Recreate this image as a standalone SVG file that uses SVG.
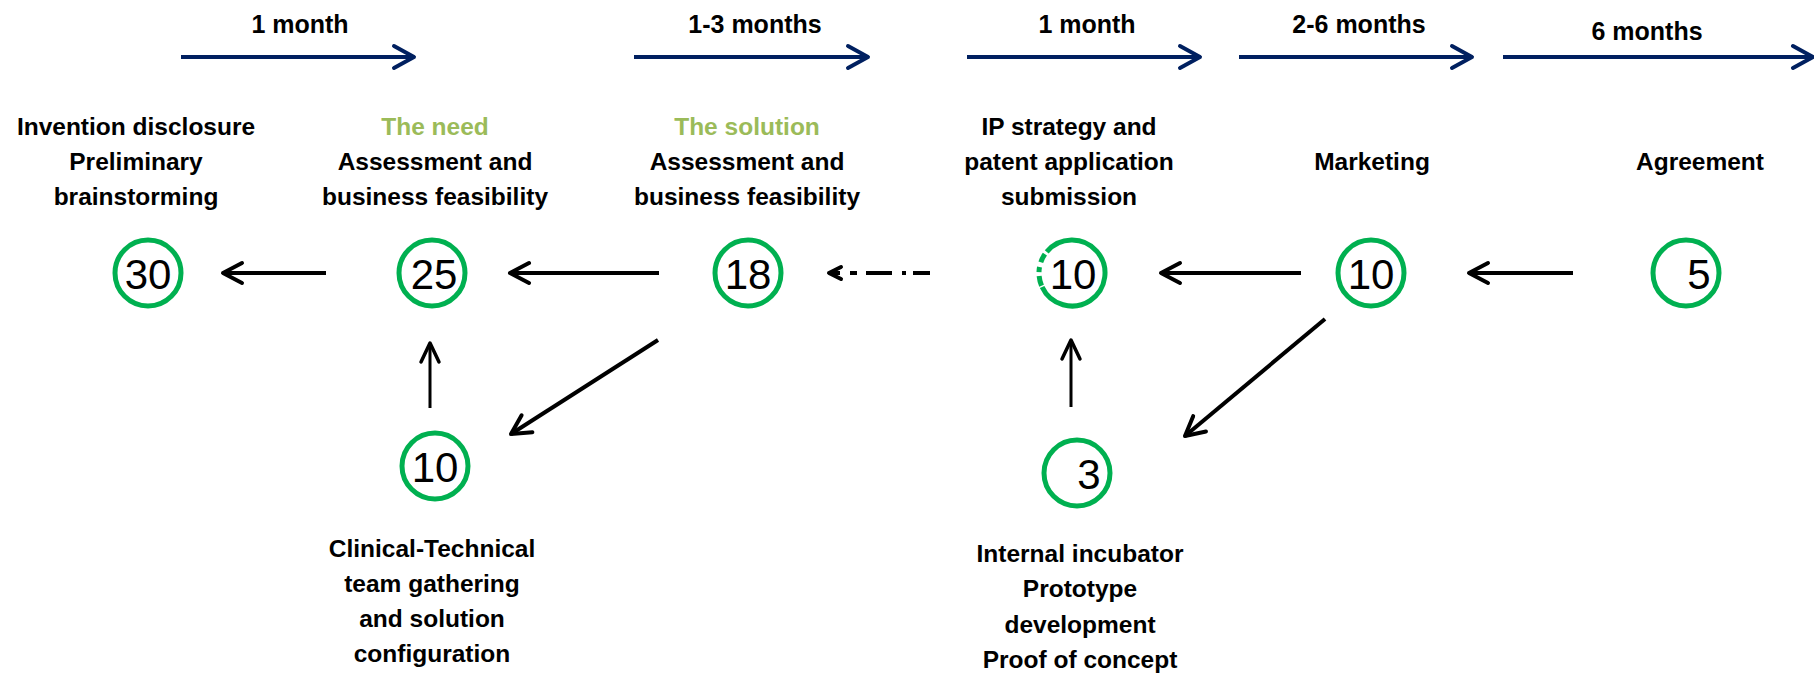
<svg xmlns="http://www.w3.org/2000/svg" width="1814" height="674" viewBox="0 0 1814 674">
<style>
  .lbl { font-family: "Liberation Sans", Arial, sans-serif; font-weight: bold; font-size: 24.5px; fill: #000; text-anchor: middle; }
  .green { fill: #9BBB59; }
  .time { font-family: "Liberation Sans", Arial, sans-serif; font-weight: bold; font-size: 25px; fill: #000; text-anchor: middle; }
  .num { font-family: "Liberation Sans", Arial, sans-serif; font-size: 42px; fill: #000; text-anchor: middle; }
  .ring { fill: none; stroke: #00B050; stroke-width: 5; }
  .tl { stroke: #002060; stroke-width: 4; fill: none; }
  .conn { stroke: #000; stroke-width: 4; fill: none; }
  .thin { stroke: #000; stroke-width: 3; fill: none; }
</style>
<defs>
  <marker id="navyHead" markerUnits="userSpaceOnUse" orient="auto" markerWidth="40" markerHeight="40" viewBox="-30 -20 40 40" refX="0" refY="0" overflow="visible">
    <path d="M-20,-11 L0,0 L-20,11" fill="none" stroke="#002060" stroke-width="4" stroke-linecap="round" stroke-linejoin="round"/>
  </marker>
  <marker id="blackHead" markerUnits="userSpaceOnUse" orient="auto" markerWidth="40" markerHeight="40" viewBox="-30 -20 40 40" refX="0" refY="0" overflow="visible">
    <path d="M-19,-10 L0,0 L-19,10" fill="none" stroke="#000" stroke-width="4" stroke-linecap="round" stroke-linejoin="round"/>
  </marker>
  <marker id="thinHead" markerUnits="userSpaceOnUse" orient="auto" markerWidth="40" markerHeight="40" viewBox="-30 -20 40 40" refX="0" refY="0" overflow="visible">
    <path d="M-19,-9 L0,0 L-19,9" fill="none" stroke="#000" stroke-width="3.5" stroke-linecap="round" stroke-linejoin="round"/>
  </marker>
  <marker id="smallHead" markerUnits="userSpaceOnUse" orient="auto" markerWidth="30" markerHeight="30" viewBox="-20 -15 30 30" refX="0" refY="0" overflow="visible">
    <path d="M-12,-6 L0,0 L-12,6" fill="none" stroke="#000" stroke-width="4" stroke-linecap="round" stroke-linejoin="round"/>
  </marker>
</defs>

<g id="timeline">
  <line class="tl" x1="181" y1="57" x2="414" y2="57" marker-end="url(#navyHead)"/>
  <text class="time" x="300" y="33">1 month</text>
  <line class="tl" x1="634" y1="57" x2="868" y2="57" marker-end="url(#navyHead)"/>
  <text class="time" x="755" y="33">1-3 months</text>
  <line class="tl" x1="967" y1="57" x2="1200" y2="57" marker-end="url(#navyHead)"/>
  <text class="time" x="1087" y="33">1 month</text>
  <line class="tl" x1="1239" y1="57" x2="1472" y2="57" marker-end="url(#navyHead)"/>
  <text class="time" x="1359" y="33">2-6 months</text>
  <line class="tl" x1="1503" y1="57" x2="1813" y2="57" marker-end="url(#navyHead)"/>
  <text class="time" x="1647" y="40">6 months</text>
</g>

<g id="connectors">
  <line class="conn" x1="326" y1="273" x2="223" y2="273" marker-end="url(#blackHead)"/>
  <line class="conn" x1="659" y1="273" x2="510" y2="273" marker-end="url(#blackHead)"/>
  <g id="dashed-arrow" stroke="#000" stroke-width="4" fill="none">
    <line x1="930" y1="273" x2="913" y2="273"/>
    <line x1="906" y1="273" x2="902" y2="273"/>
    <line x1="892" y1="273" x2="866" y2="273"/>
    <line x1="857" y1="273" x2="850" y2="273"/>
    <line x1="840" y1="273" x2="829" y2="273" marker-end="url(#smallHead)"/>
  </g>
  <line class="conn" x1="1301" y1="273" x2="1161" y2="273" marker-end="url(#blackHead)"/>
  <line class="conn" x1="1573" y1="273" x2="1469" y2="273" marker-end="url(#blackHead)"/>
  <line class="thin" x1="430" y1="408" x2="430" y2="343" marker-end="url(#thinHead)"/>
  <line class="conn" x1="658" y1="340" x2="511" y2="434" marker-end="url(#blackHead)"/>
  <line class="thin" x1="1071" y1="407" x2="1071" y2="340" marker-end="url(#thinHead)"/>
  <line class="conn" x1="1325" y1="319" x2="1185" y2="436" marker-end="url(#blackHead)"/>
</g>

<g id="node-disclosure">
  <circle class="ring" cx="148" cy="273" r="33"/>
  <text class="num" x="148" y="289">30</text>
  <text class="lbl" x="136" y="135">Invention disclosure</text>
  <text class="lbl" x="136" y="170">Preliminary</text>
  <text class="lbl" x="136" y="205">brainstorming</text>
</g>

<g id="node-need">
  <circle class="ring" cx="432" cy="273" r="33"/>
  <text class="num" x="434" y="289">25</text>
  <text class="lbl green" x="435" y="135">The need</text>
  <text class="lbl" x="435" y="170">Assessment and</text>
  <text class="lbl" x="435" y="205">business feasibility</text>
</g>

<g id="node-solution">
  <circle class="ring" cx="748" cy="273" r="33"/>
  <text class="num" x="748" y="289">18</text>
  <text class="lbl green" x="747" y="135">The solution</text>
  <text class="lbl" x="747" y="170">Assessment and</text>
  <text class="lbl" x="747" y="205">business feasibility</text>
</g>

<g id="node-ip">
  <path class="ring" d="M1046.7,251.8 A33,33 0 1 1 1042.1,287"/>
  <path class="ring" d="M1046.7,251.8 A33,33 0 0 0 1042.1,287" stroke-dasharray="0 3 9 5 5 4 10 10"/>
  <text class="num" x="1073" y="289">10</text>
  <text class="lbl" x="1069" y="135">IP strategy and</text>
  <text class="lbl" x="1069" y="170">patent application</text>
  <text class="lbl" x="1069" y="205">submission</text>
</g>

<g id="node-marketing">
  <circle class="ring" cx="1371" cy="273" r="33"/>
  <text class="num" x="1371" y="289">10</text>
  <text class="lbl" x="1372" y="170">Marketing</text>
</g>

<g id="node-agreement">
  <circle class="ring" cx="1686" cy="273" r="33"/>
  <text class="num" x="1699" y="289">5</text>
  <text class="lbl" x="1700" y="170">Agreement</text>
</g>

<g id="node-team">
  <circle class="ring" cx="435" cy="466" r="33"/>
  <text class="num" x="435" y="482">10</text>
  <text class="lbl" x="432" y="557">Clinical-Technical</text>
  <text class="lbl" x="432" y="592">team gathering</text>
  <text class="lbl" x="432" y="627">and solution</text>
  <text class="lbl" x="432" y="662">configuration</text>
</g>

<g id="node-incubator">
  <circle class="ring" cx="1077" cy="473" r="33"/>
  <text class="num" x="1089" y="489">3</text>
  <text class="lbl" x="1080" y="562">Internal incubator</text>
  <text class="lbl" x="1080" y="597">Prototype</text>
  <text class="lbl" x="1080" y="633">development</text>
  <text class="lbl" x="1080" y="668">Proof of concept</text>
</g>
</svg>
